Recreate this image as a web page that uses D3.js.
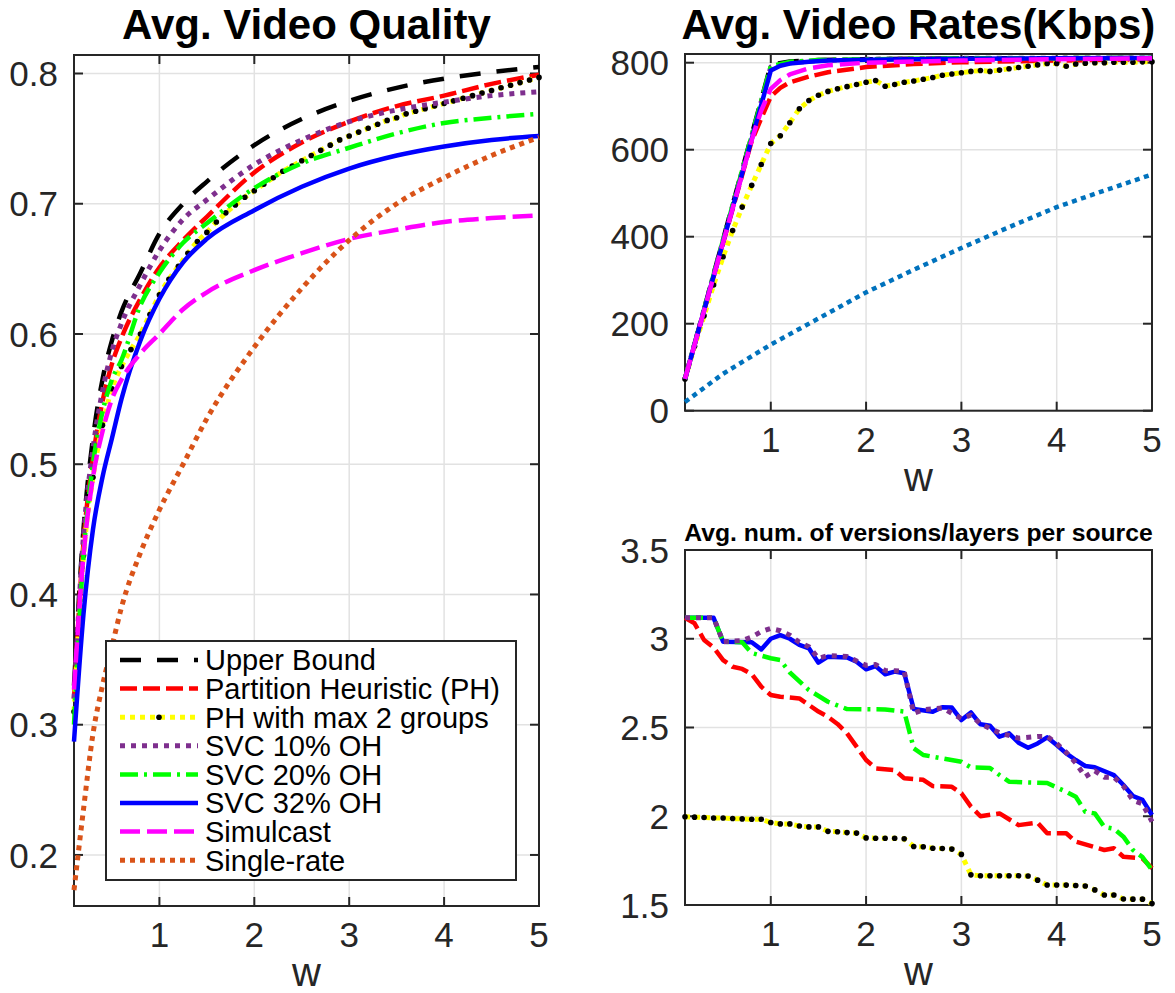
<!DOCTYPE html>
<html>
<head>
<meta charset="utf-8">
<script src="https://cdn.jsdelivr.net/npm/d3@7/dist/d3.min.js"></script>
<style>
body { margin: 0; background: #fff; }
text { font-family: "Liberation Sans", Arial, Helvetica, sans-serif; }
</style>
</head>
<body>
<script>
// ---------- data: left panel, Avg. Video Quality ----------
var wQ = [0.1, 0.2, 0.3, 0.4, 0.5, 0.6, 0.8, 1, 1.25, 1.5, 2, 2.5, 3, 3.5, 4, 4.5, 5];
var qUpper   = [0.33, 0.45, 0.52, 0.565, 0.595, 0.617, 0.647, 0.677, 0.700, 0.717, 0.745, 0.765, 0.779, 0.789, 0.796, 0.801, 0.805];
var qPH      = [0.32, 0.44, 0.505, 0.548, 0.577, 0.597, 0.627, 0.651, 0.672, 0.690, 0.724, 0.747, 0.763, 0.775, 0.783, 0.792, 0.799];
var qSVC10   = [0.32, 0.445, 0.512, 0.556, 0.587, 0.608, 0.638, 0.664, 0.688, 0.703, 0.730, 0.749, 0.763, 0.772, 0.778, 0.783, 0.786];
var qSVC20   = [0.30, 0.43, 0.50, 0.54, 0.565, 0.580, 0.622, 0.647, 0.670, 0.685, 0.712, 0.731, 0.743, 0.754, 0.762, 0.766, 0.769];
var qSVC32   = [0.287, 0.385, 0.45, 0.49, 0.52, 0.55, 0.595, 0.627, 0.655, 0.673, 0.695, 0.713, 0.727, 0.737, 0.744, 0.749, 0.752];
var qSimul   = [0.327, 0.43, 0.49, 0.525, 0.55, 0.565, 0.585, 0.600, 0.619, 0.632, 0.649, 0.662, 0.673, 0.680, 0.686, 0.689, 0.691];
var qSingle  = [0.173, 0.235, 0.293, 0.33, 0.36, 0.39, 0.432, 0.465, 0.500, 0.535, 0.590, 0.635, 0.672, 0.700, 0.720, 0.737, 0.751];

// PH with max 2 groups has a marker at every w step
var wAll = [0.1, 0.2, 0.3, 0.4, 0.5, 0.6, 0.7, 0.8, 0.9, 1.0,
            1.1, 1.2, 1.3, 1.4, 1.5, 1.6, 1.7, 1.8, 1.9, 2.0,
            2.1, 2.2, 2.3, 2.4, 2.5, 2.6, 2.7, 2.8, 2.9, 3.0,
            3.1, 3.2, 3.3, 3.4, 3.5, 3.6, 3.7, 3.8, 3.9, 4.0,
            4.1, 4.2, 4.3, 4.4, 4.5, 4.6, 4.7, 4.8, 4.9, 5.0];
var qPH2 = [0.31, 0.43, 0.49, 0.53, 0.558, 0.575, 0.588, 0.60, 0.615, 0.63,
            0.642, 0.652, 0.662, 0.671, 0.678, 0.686, 0.693, 0.699, 0.705, 0.71,
            0.715, 0.72, 0.725, 0.729, 0.733, 0.737, 0.741, 0.745, 0.749, 0.752,
            0.755, 0.758, 0.761, 0.764, 0.766, 0.769, 0.771, 0.773, 0.775, 0.777,
            0.779, 0.781, 0.783, 0.785, 0.787, 0.789, 0.791, 0.793, 0.795, 0.797];

// ---------- data: top right, Avg. Video Rates(Kbps) ----------
var wRUpper = [0.1, 1.0, 1.2, 1.5, 2, 3, 4, 5];
var rUpper  = [73, 795, 803, 806, 808, 810, 810, 811];
var wRPH = [0.1, 0.8, 0.9, 1.0, 1.1, 1.2, 1.4, 1.6, 2.0, 2.5, 3, 4, 5];
var rPH  = [73, 620, 672, 722, 742, 755, 768, 778, 790, 797, 801, 805, 808];
var rPH2 = [73, 148, 218, 289, 354, 414, 468, 518, 566, 614,
            632, 662, 694, 713, 725, 734, 740, 745, 750, 755,
            759, 746, 750, 755, 758, 762, 766, 771, 774, 777,
            780, 782, 780, 783, 786, 789, 792, 795, 798, 798,
            792, 797, 799, 800, 800, 801, 801, 801, 802, 802];
var wRSVC10 = [0.1, 1.0, 1.2, 1.5, 2, 3, 5];
var rSVC10  = [73, 790, 800, 805, 808, 810, 811];
var wRSVC20 = [0.1, 1.0, 1.2, 1.5, 2, 3, 5];
var rSVC20  = [73, 792, 802, 806, 808, 810, 811];
var wRSVC32 = [0.1, 1.0, 1.1, 1.2, 1.4, 1.6, 2, 3, 4, 5];
var rSVC32  = [73, 782, 793, 798, 802, 805, 807, 809, 810, 811];
var wRSimul = [0.1, 0.8, 0.9, 1.0, 1.1, 1.2, 1.4, 1.6, 2, 3, 4, 5];
var rSimul  = [73, 622, 690, 740, 760, 773, 787, 794, 800, 805, 808, 810];
var wRSingle = [0.1, 0.5, 1, 1.5, 2, 2.5, 3, 3.5, 4, 4.5, 5];
var rSingle  = [20, 85, 152, 212, 272, 324, 374, 422, 468, 506, 543];

// ---------- data: bottom right, Avg. num. of versions/layers ----------
var wLPH = [0.1, 0.2, 0.3, 0.4, 0.5, 0.6, 0.7, 0.8, 0.9, 1.0, 1.1, 1.3, 1.4, 1.5, 1.6, 1.7, 1.8, 1.9, 2.0,
            2.1, 2.3, 2.4, 2.6, 2.7, 2.9, 3.0, 3.1, 3.2, 3.4, 3.6, 3.8, 3.9, 4.1, 4.2, 4.5, 4.6, 4.7, 4.9, 5.0];
var lPH  = [3.118, 3.087, 2.993, 2.95, 2.88, 2.842, 2.83, 2.80, 2.73, 2.683, 2.673, 2.664, 2.627, 2.59, 2.56, 2.52, 2.467, 2.392, 2.317,
            2.27, 2.26, 2.214, 2.205, 2.17, 2.166, 2.13, 2.054, 2.0, 2.016, 1.95, 1.964, 1.904, 1.904, 1.857, 1.81, 1.82, 1.772, 1.763, 1.707];
var lPH2 = [1.997, 1.995, 1.993, 1.99, 1.99, 1.987, 1.985, 1.983, 1.983, 1.965,
            1.957, 1.957, 1.945, 1.94, 1.94, 1.915, 1.913, 1.908, 1.905, 1.878,
            1.876, 1.876, 1.876, 1.873, 1.83, 1.828, 1.82, 1.818, 1.815, 1.785,
            1.67, 1.665, 1.665, 1.665, 1.665, 1.665, 1.663, 1.64, 1.613, 1.613,
            1.612, 1.61, 1.607, 1.585, 1.556, 1.556, 1.534, 1.533, 1.533, 1.508];
var wLSVC10 = [0.1, 0.4, 0.5, 0.7, 0.8, 0.9, 1.0, 1.1, 1.2, 1.3, 1.4, 1.5, 1.6, 1.8, 2.0, 2.1, 2.2, 2.3, 2.4, 2.5,
               2.6, 2.8, 3.0, 3.1, 3.2, 3.4, 3.6, 3.8, 3.9, 4.0, 4.1, 4.2, 4.3, 4.4, 4.5, 4.6, 4.7, 4.8, 4.9, 5.0];
var lSVC10  = [3.118, 3.118, 2.983, 2.99, 3.01, 3.04, 3.058, 3.045, 3.02, 2.98, 2.955, 2.89, 2.905, 2.9, 2.85, 2.855, 2.82, 2.82, 2.815, 2.58,
               2.6, 2.61, 2.55, 2.57, 2.52, 2.47, 2.44, 2.45, 2.45, 2.41, 2.36, 2.30, 2.223, 2.256, 2.22, 2.22, 2.17, 2.09, 2.07, 1.97];
var wLSVC20 = [0.1, 0.4, 0.5, 0.7, 0.8, 1.0, 1.1, 1.2, 1.4, 1.6, 1.8, 2.2, 2.4, 2.5, 2.6, 2.8, 3.0, 3.1, 3.3,
               3.4, 3.5, 3.7, 3.9, 4.1, 4.2, 4.3, 4.4, 4.5, 4.6, 4.7, 4.8, 4.9, 5.0];
var lSVC20  = [3.118, 3.118, 2.983, 2.98, 2.92, 2.89, 2.88, 2.81, 2.711, 2.645, 2.604, 2.602, 2.59, 2.383, 2.345, 2.326, 2.307, 2.275, 2.272,
               2.232, 2.195, 2.19, 2.187, 2.138, 2.11, 2.025, 2.016, 1.94, 1.93, 1.885, 1.81, 1.77, 1.697];
var wLSVC32 = [0.1, 0.4, 0.5, 0.8, 0.9, 1.0, 1.1, 1.2, 1.3, 1.4, 1.5, 1.6, 1.8, 1.9, 2.0, 2.1, 2.2, 2.3, 2.4, 2.5,
               2.7, 2.8, 2.9, 3.0, 3.1, 3.2, 3.3, 3.4, 3.5, 3.6, 3.7, 3.8, 3.9, 4.0, 4.1, 4.2, 4.3, 4.4, 4.6, 4.7, 4.8, 4.9, 5.0];
var lSVC32  = [3.118, 3.118, 2.983, 2.98, 2.94, 3.0, 3.02, 3.0, 2.965, 2.946, 2.865, 2.899, 2.895, 2.871, 2.828, 2.846, 2.80, 2.815, 2.806, 2.604,
               2.589, 2.614, 2.612, 2.542, 2.585, 2.518, 2.51, 2.448, 2.467, 2.414, 2.386, 2.41, 2.445, 2.401, 2.354, 2.317, 2.283, 2.276, 2.232, 2.176, 2.114, 2.092, 2.007];

var xTicks = [1, 2, 3, 4, 5];
var qTicks = [0.2, 0.3, 0.4, 0.5, 0.6, 0.7, 0.8];
var rTicks = [0, 200, 400, 600, 800];
var lTicks = [1.5, 2, 2.5, 3, 3.5];
var legendNames = ["Upper Bound", "Partition Heuristic (PH)", "PH with max 2 groups", "SVC 10% OH",
                   "SVC 20% OH", "SVC 32% OH", "Simulcast", "Single-rate"];

// line styles (MATLAB look)
var sty = {
	ub:     {color: "#000000", dash: "21,16", w: 4.5},
	ph:     {color: "#ff0000", dash: "17,6", w: 4.5},
	ph2:    {color: "#ffff00", dash: "5,5", w: 5, dots: true},
	svc10:  {color: "#7e2f8e", dash: "5,6", w: 5},
	svc20:  {color: "#00ff00", dash: "18,6,3,6", w: 4.5},
	svc32:  {color: "#0000ff", dash: null, w: 4.5},
	simul:  {color: "#ff00ff", dash: "20,7", w: 4.5},
	single: {color: "#d95319", dash: "5,5", w: 5},
	singleR:{color: "#0072bd", dash: "5,4.5", w: 4.5}
};
var legendStyles = [sty.ub, sty.ph, sty.ph2, sty.svc10, sty.svc20, sty.svc32, sty.simul, sty.single];

var axisColor = "#262626";
var gridColor = "#e2e2e2";

var svg = d3.select("body").append("svg")
	.attr("width", 1175)
	.attr("height", 993);

function makePanel(box, yDomain, yTicks, fmt) {
	var x = d3.scaleLinear().domain([0.1, 5]).range([box.left, box.right]);
	var y = d3.scaleLinear().domain(yDomain).range([box.bottom, box.top]);
	var g = svg.append("g");
	//grid
	xTicks.forEach(function (t) {
		g.append("line")
			.attr("x1", x(t)).attr("x2", x(t))
			.attr("y1", box.top).attr("y2", box.bottom)
			.style("stroke", gridColor).style("stroke-width", 1.5);
	});
	yTicks.forEach(function (t) {
		g.append("line")
			.attr("x1", box.left).attr("x2", box.right)
			.attr("y1", y(t)).attr("y2", y(t))
			.style("stroke", gridColor).style("stroke-width", 1.5);
	});
	//frame + inner ticks
	g.append("rect")
		.attr("x", box.left).attr("y", box.top)
		.attr("width", box.right - box.left).attr("height", box.bottom - box.top)
		.style("fill", "none").style("stroke", axisColor).style("stroke-width", 2);
	xTicks.forEach(function (t) {
		g.append("line").attr("x1", x(t)).attr("x2", x(t)).attr("y1", box.bottom).attr("y2", box.bottom - 9)
			.style("stroke", axisColor).style("stroke-width", 2);
		g.append("line").attr("x1", x(t)).attr("x2", x(t)).attr("y1", box.top).attr("y2", box.top + 9)
			.style("stroke", axisColor).style("stroke-width", 2);
		g.append("text")
			.attr("x", x(t)).attr("y", box.bottom + 41)
			.attr("text-anchor", "middle")
			.style("font-size", "35px").style("fill", axisColor)
			.text(t);
	});
	yTicks.forEach(function (t) {
		g.append("line").attr("x1", box.left).attr("x2", box.left + 9).attr("y1", y(t)).attr("y2", y(t))
			.style("stroke", axisColor).style("stroke-width", 2);
		g.append("line").attr("x1", box.right).attr("x2", box.right - 9).attr("y1", y(t)).attr("y2", y(t))
			.style("stroke", axisColor).style("stroke-width", 2);
		g.append("text")
			.attr("x", box.left - 16).attr("y", y(t))
			.attr("dy", "0.36em")
			.attr("text-anchor", "end")
			.style("font-size", "35px").style("fill", axisColor)
			.text(fmt(t));
	});
	//x label
	g.append("text")
		.attr("x", (box.left + box.right) / 2).attr("y", box.bottom + 80)
		.attr("text-anchor", "middle")
		.style("font-size", "40px").style("fill", axisColor)
		.text("w");
	return {x: x, y: y, g: g};
}

function drawSeries(p, xs, ys, st, curve) {
	var pts = xs.map(function (d, i) { return [d, ys[i]]; });
	var line = d3.line()
		.x(function (d) { return p.x(d[0]); })
		.y(function (d) { return p.y(d[1]); })
		.curve(curve || d3.curveLinear);
	var path = p.g.append("path")
		.attr("d", line(pts))
		.style("fill", "none")
		.style("stroke", st.color)
		.style("stroke-width", st.w)
		.style("stroke-linejoin", "round");
	if (st.dash) path.style("stroke-dasharray", st.dash);
	if (st.dots) {
		p.g.selectAll(null).data(pts).enter().append("circle")
			.attr("cx", function (d) { return p.x(d[0]); })
			.attr("cy", function (d) { return p.y(d[1]); })
			.attr("r", 2.8)
			.style("fill", "#000");
	}
}

// ---------- left: quality ----------
var left = makePanel({left: 74, right: 539, top: 55, bottom: 906}, [0.1608, 0.8142], qTicks, d3.format(".1f"));
var smooth = d3.curveMonotoneX;
drawSeries(left, wQ, qUpper, sty.ub, smooth);
drawSeries(left, wQ, qPH, sty.ph, smooth);
drawSeries(left, wAll, qPH2, sty.ph2, smooth);
drawSeries(left, wQ, qSVC10, sty.svc10, smooth);
drawSeries(left, wQ, qSVC20, sty.svc20, smooth);
drawSeries(left, wQ, qSVC32, sty.svc32, smooth);
drawSeries(left, wQ, qSimul, sty.simul, smooth);
drawSeries(left, wQ, qSingle, sty.single, smooth);

svg.append("text")
	.attr("x", 306.5).attr("y", 39)
	.attr("text-anchor", "middle")
	.style("font-size", "42px").style("font-weight", "bold")
	.text("Avg. Video Quality");

//legend
var lg = svg.append("g");
lg.append("rect")
	.attr("x", 106).attr("y", 641)
	.attr("width", 410).attr("height", 239)
	.style("fill", "#fff").style("stroke", axisColor).style("stroke-width", 2);
legendNames.forEach(function (name, i) {
	var ly = 660 + i * 28.6;
	var st = legendStyles[i];
	var ln = lg.append("line")
		.attr("x1", 120).attr("x2", 198)
		.attr("y1", ly).attr("y2", ly)
		.style("stroke", st.color).style("stroke-width", st.w);
	if (st.dash) ln.style("stroke-dasharray", st.dash);
	if (st.dots) {
		lg.append("circle").attr("cx", 159).attr("cy", ly).attr("r", 2.8).style("fill", "#000");
	}
	lg.append("text")
		.attr("x", 205).attr("y", ly)
		.attr("dy", "0.36em")
		.style("font-size", "29px").style("fill", "#000")
		.text(name);
});

// ---------- top right: rates ----------
var rates = makePanel({left: 685, right: 1152, top: 54, bottom: 410.7}, [0, 820], rTicks, d3.format("d"));
drawSeries(rates, wRUpper, rUpper, sty.ub);
drawSeries(rates, wRPH, rPH, sty.ph);
drawSeries(rates, wAll, rPH2, sty.ph2);
drawSeries(rates, wRSVC10, rSVC10, sty.svc10);
drawSeries(rates, wRSVC20, rSVC20, sty.svc20);
drawSeries(rates, wRSVC32, rSVC32, sty.svc32);
drawSeries(rates, wRSimul, rSimul, sty.simul);
drawSeries(rates, wRSingle, rSingle, sty.singleR);

svg.append("text")
	.attr("x", 918.5).attr("y", 39)
	.attr("text-anchor", "middle")
	.style("font-size", "42px").style("font-weight", "bold")
	.text("Avg. Video Rates(Kbps)");

// ---------- bottom right: versions/layers ----------
var layers = makePanel({left: 685, right: 1152, top: 550, bottom: 905}, [1.5, 3.5], lTicks, function (t) { return String(t); });
drawSeries(layers, wLPH, lPH, sty.ph);
drawSeries(layers, wAll, lPH2, sty.ph2);
drawSeries(layers, wLSVC32, lSVC32, sty.svc32);
drawSeries(layers, wLSVC20, lSVC20, sty.svc20);
drawSeries(layers, wLSVC10, lSVC10, sty.svc10);

svg.append("text")
	.attr("x", 918.5).attr("y", 541)
	.attr("text-anchor", "middle")
	.style("font-size", "24.7px").style("font-weight", "bold")
	.text("Avg. num. of versions/layers per source");
</script>
</body>
</html>
